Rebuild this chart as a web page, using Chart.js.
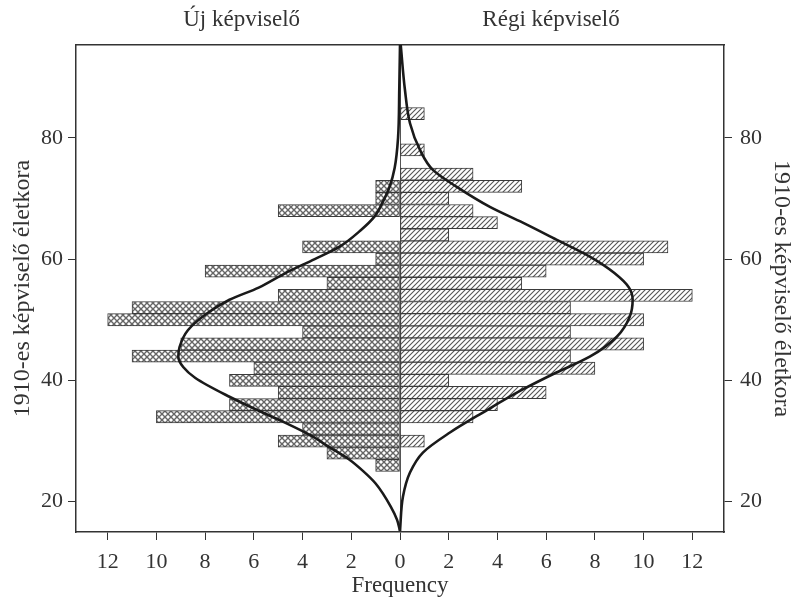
<!DOCTYPE html>
<html>
<head>
<meta charset="utf-8">
<script src="https://cdn.jsdelivr.net/npm/chart.js@4.4.1/dist/chart.umd.min.js"></script>
<style>
  html, body { margin: 0; padding: 0; background: #fff; }
  #wrap { width: 797px; height: 602px; }
</style>
</head>
<body>
<div id="wrap"><canvas id="myChart" width="797" height="602"></canvas></div>
<script>
// age bins (2-year bins, centre values)
const ageBins = [26, 28, 30, 32, 34, 36, 38, 40, 42, 44, 46, 48, 50, 52, 54, 56, 58, 60, 62, 64, 66, 68, 70, 72, 74, 76, 78, 80, 82, 84];
// new members (left side)
const ujCounts = [1, 3, 5, 4, 10, 7, 5, 7, 6, 11, 9, 4, 12, 11, 5, 3, 8, 1, 4, 0, 0, 5, 1, 1, 0, 0, 0, 0, 0, 0];
// returning members (right side)
const regiCounts = [0, 0, 1, 0, 3, 4, 6, 2, 8, 7, 10, 7, 10, 7, 12, 5, 6, 10, 11, 2, 4, 3, 2, 5, 3, 0, 1, 0, 0, 1];

// fitted curves
const ujCurveAges = [95.3, 88, 80, 75, 72, 69.3, 67, 64.8, 62, 60, 57.7, 55.3, 53.3, 51.1, 48.3, 45.5, 43.9, 42.2, 40.4, 37.3, 35, 33, 31, 29, 27, 25, 23, 19.2, 17, 15.2];
const ujCurveValues = [0, -0.03, -0.08, -0.22, -0.42, -0.72, -1.05, -1.6, -2.5, -3.5, -4.7, -5.8, -7.0, -7.9, -8.7, -9.05, -9.1, -8.9, -8.4, -7.0, -5.8, -4.7, -3.7, -2.9, -2.1, -1.5, -1.0, -0.38, -0.12, 0];
const regiCurveAges = [95.3, 88, 82.4, 78, 74.7, 71.9, 68.6, 66, 63.2, 60.4, 57.7, 55.3, 53.3, 50.5, 47.2, 43.9, 41.3, 38.5, 34.7, 31.4, 28.1, 24.8, 20.8, 15.2];
const regiCurveValues = [0.03, 0.2, 0.41, 0.82, 1.35, 2.33, 3.69, 5.04, 6.42, 7.79, 8.8, 9.4, 9.55, 9.43, 8.9, 7.79, 6.42, 5.04, 3.4, 2.05, 0.94, 0.41, 0.12, 0];

const xTicks = [-12, -10, -8, -6, -4, -2, 0, 2, 4, 6, 8, 10, 12];
const yTicks = [20, 40, 60, 80];
const panelTitles = ['Új képviselő', 'Régi képviselő'];
const yTitle = '1910-es képviselő életkora';

function hatch(size, lineW, color, cross) {
    const c = document.createElement('canvas');
    c.width = size;
    c.height = size;
    const g = c.getContext('2d');
    g.fillStyle = '#fff';
    g.fillRect(0, 0, size, size);
    g.strokeStyle = color;
    g.lineWidth = lineW;
    const diag = (flip) => {
        g.beginPath();
        for (const o of [-size, 0, size]) {
            if (!flip) { g.moveTo(o - 1, size + 1); g.lineTo(o + size + 1, -1); }
            else { g.moveTo(o - 1, -1); g.lineTo(o + size + 1, size + 1); }
        }
        g.stroke();
    };
    diag(false);
    if (cross) diag(true);
    return g.createPattern(c, 'repeat');
}

function makeGraphic() {
    Chart.defaults.font.family = "'Liberation Serif', 'DejaVu Serif', serif";
    Chart.defaults.color = '#333';

    const canvasContext = document.getElementById('myChart').getContext('2d');
    const crossPattern = hatch(6, 1.4, '#666', true);
    const linePattern = hatch(5, 1.1, '#555', false);

    const ujBars = ageBins.map((a, i) => ({ x: -ujCounts[i], y: a })).filter(p => p.x !== 0);
    const regiBars = ageBins.map((a, i) => ({ x: regiCounts[i], y: a })).filter(p => p.x !== 0);
    const ujCurve = ujCurveAges.map((a, i) => ({ x: ujCurveValues[i], y: a }));
    const regiCurve = regiCurveAges.map((a, i) => ({ x: regiCurveValues[i], y: a }));

    const barStyle = {
        type: 'bar',
        borderColor: '#3a3a3a',
        borderWidth: 1,
        borderSkipped: false,
        grouped: false,
        barPercentage: 1,
        categoryPercentage: 1,
        order: 2
    };
    const curveStyle = {
        type: 'line',
        indexAxis: 'y',
        borderColor: '#1a1a1a',
        borderWidth: 2.6,
        pointRadius: 0,
        fill: false,
        cubicInterpolationMode: 'monotone',
        order: 0
    };

    const data = {
        datasets: [
            { ...curveStyle, label: 'Új görbe', data: ujCurve },
            { ...curveStyle, label: 'Régi görbe', data: regiCurve },
            { ...barStyle, label: panelTitles[0], data: ujBars, backgroundColor: crossPattern },
            { ...barStyle, label: panelTitles[1], data: regiBars, backgroundColor: linePattern }
        ]
    };

    const yAxis = (pos, w, pad, titlePad) => ({
        type: 'linear',
        position: pos,
        min: 15,
        max: 95.3,
        offset: false,
        afterBuildTicks: a => { a.ticks = yTicks.map(v => ({ value: v })); },
        afterFit: a => { a.width = w; },
        ticks: { font: { size: 22 }, padding: pad, color: '#333' },
        grid: { drawOnChartArea: false, offset: false, tickLength: 8, color: '#333' },
        border: { color: '#333', width: 1.5 },
        title: { display: true, text: yTitle, font: { size: 24 }, padding: { top: titlePad, bottom: 0 }, color: '#333' }
    });

    const config = {
        type: 'bar',
        data: data,
        options: {
            indexAxis: 'y',
            responsive: false,
            animation: false,
            layout: { padding: 0 },
            plugins: { legend: { display: false }, tooltip: { enabled: false } },
            scales: {
                x: {
                    type: 'linear',
                    position: 'bottom',
                    min: -13.3,
                    max: 13.3,
                    afterBuildTicks: a => { a.ticks = xTicks.map(v => ({ value: v })); },
                    afterFit: a => { a.height = 70; },
                    ticks: { callback: v => Math.abs(v), font: { size: 22 }, padding: 9, color: '#333', maxRotation: 0, autoSkip: false },
                    grid: {
                        color: c => (c.tick && c.tick.value === 0 ? '#555' : 'rgba(0,0,0,0)'),
                        tickColor: '#333',
                        tickLength: 8
                    },
                    border: { color: '#333', width: 1.5 },
                    title: { display: true, text: 'Frequency', font: { size: 23 }, padding: { top: 0, bottom: 2 }, color: '#333' }
                },
                x2: {
                    type: 'linear',
                    position: 'top',
                    min: -13.3,
                    max: 13.3,
                    afterBuildTicks: a => { a.ticks = [{ value: -6.5 }, { value: 6.2 }]; },
                    afterFit: a => { a.height = 45; },
                    ticks: { callback: (v, i) => panelTitles[i], font: { size: 23 }, padding: 11, color: '#333', maxRotation: 0, autoSkip: false },
                    grid: { display: false, drawTicks: false },
                    border: { display: true, color: '#333', width: 1.5 }
                },
                y: yAxis('left', 76, 5, 8),
                y2: yAxis('right', 73, 8, 1)
            }
        }
    };
    new Chart(canvasContext, config);
}
makeGraphic();
</script>
</body>
</html>
